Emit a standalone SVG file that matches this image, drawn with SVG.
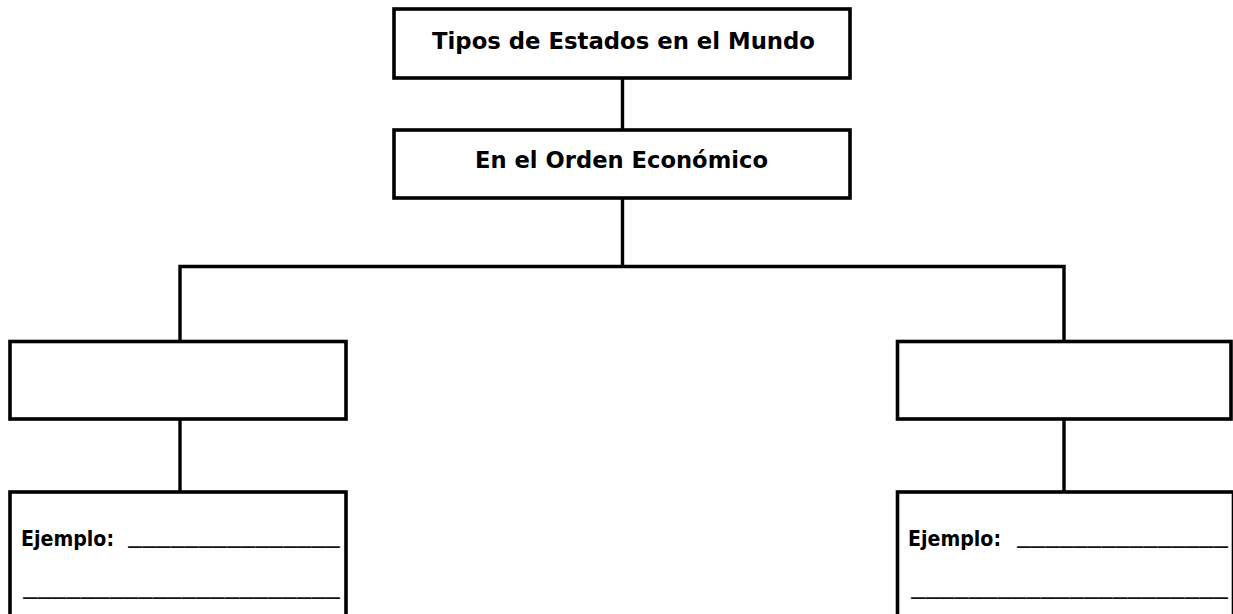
<svg xmlns="http://www.w3.org/2000/svg" width="1233" height="614" viewBox="0 0 1233 614">
<style>
.box{fill:#fff;stroke:#000;stroke-width:3.6}
.con{fill:none;stroke:#000;stroke-width:3.4;stroke-linejoin:miter}
.t{font-family:"DejaVu Sans","Liberation Sans",sans-serif;font-weight:bold;font-size:23px;fill:#000}
.e{font-family:"DejaVu Sans","Liberation Sans",sans-serif;font-weight:bold;font-size:21px;fill:#000}
.u{font-family:"DejaVu Sans","Liberation Sans",sans-serif;font-weight:bold;font-size:20px;fill:#111}
</style>
<rect width="1233" height="614" fill="#fff"/>
<g id="connectors">
<line class="con" x1="622.5" y1="78" x2="622.5" y2="130"/>
<polyline class="con" points="622.5,198 622.5,266.5"/>
<polyline class="con" points="180,341.5 180,266.5 1064,266.5 1064,341.5"/>
<line class="con" x1="180" y1="419" x2="180" y2="492"/>
<line class="con" x1="1064" y1="419" x2="1064" y2="492"/>
</g>
<g id="n-tipos">
<rect class="box" x="394" y="9" width="456" height="69"/>
<text class="t" x="432" y="49" textLength="383" lengthAdjust="spacingAndGlyphs">Tipos de Estados en el Mundo</text>
</g>
<g id="n-orden">
<rect class="box" x="394" y="130" width="456" height="68"/>
<text class="t" x="475" y="168" textLength="293" lengthAdjust="spacingAndGlyphs">En el Orden Económico</text>
</g>
<g id="n-left">
<rect class="box" x="10" y="341.5" width="336" height="77.5"/>
</g>
<g id="n-right">
<rect class="box" x="897.5" y="341.5" width="333.5" height="77.5"/>
</g>
<g id="n-left-ej">
<rect class="box" x="10" y="492" width="336" height="140"/>
<text class="e" x="21" y="546" textLength="93" lengthAdjust="spacingAndGlyphs">Ejemplo:</text>
<text class="u" x="128" y="543" textLength="212" lengthAdjust="spacingAndGlyphs">_______________</text>
<text class="u" x="23" y="594" textLength="317" lengthAdjust="spacingAndGlyphs">______________________</text>
</g>
<g id="n-right-ej">
<rect class="box" x="897.5" y="492" width="336" height="140"/>
<text class="e" x="908" y="546" textLength="93" lengthAdjust="spacingAndGlyphs">Ejemplo:</text>
<text class="u" x="1017" y="543" textLength="211" lengthAdjust="spacingAndGlyphs">_______________</text>
<text class="u" x="911" y="594" textLength="317" lengthAdjust="spacingAndGlyphs">______________________</text>
</g>
</svg>
